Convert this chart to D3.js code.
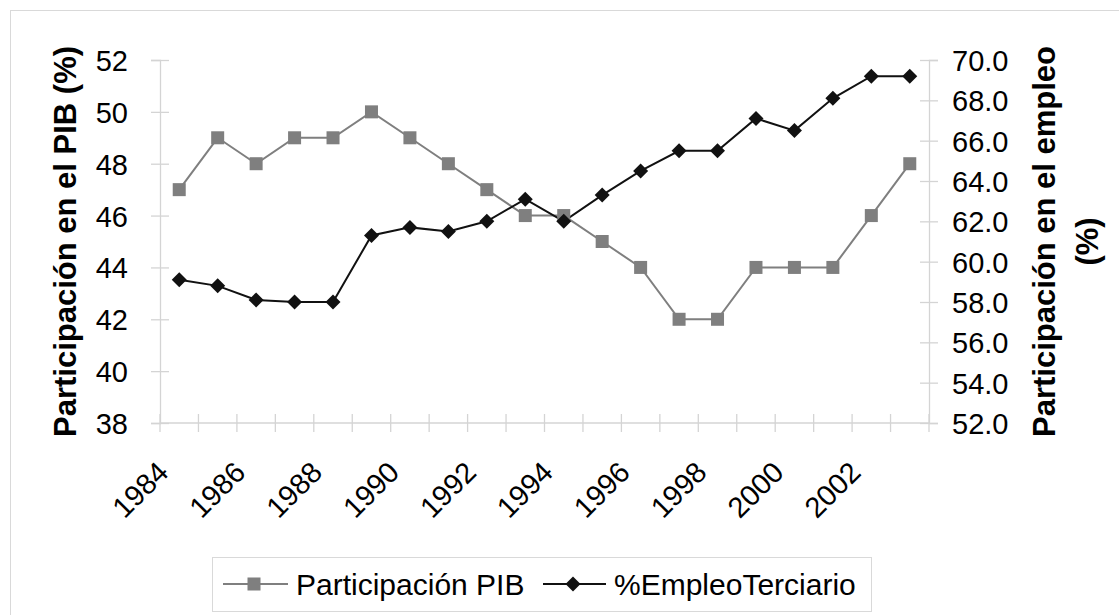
<!DOCTYPE html>
<html>
<head>
<meta charset="utf-8">
<script src="https://cdn.jsdelivr.net/npm/d3@7"></script>
<style>
  body { margin: 0; background: #fff; }
  svg text { font-family: "Liberation Sans", Arial, sans-serif; fill: #000; }
</style>
</head>
<body>
<div id="chart"></div>
<script>
"use strict";

// data
var years = [1984, 1985, 1986, 1987, 1988, 1989, 1990, 1991, 1992, 1993,
             1994, 1995, 1996, 1997, 1998, 1999, 2000, 2001, 2002, 2003];
var pib = [47, 49, 48, 49, 49, 50, 49, 48, 47, 46,
           46, 45, 44, 42, 42, 44, 44, 44, 46, 48];
var empleo = [59.1, 58.8, 58.1, 58.0, 58.0, 61.3, 61.7, 61.5, 62.0, 63.1,
              62.0, 63.3, 64.5, 65.5, 65.5, 67.1, 66.5, 68.1, 69.2, 69.2];
var leftTicks = [38, 40, 42, 44, 46, 48, 50, 52];
var rightTicks = [52, 54, 56, 58, 60, 62, 64, 66, 68, 70];
var xTickLabels = [1984, 1986, 1988, 1990, 1992, 1994, 1996, 1998, 2000, 2002];

var width = 1119, height = 615;
var margin = { top: 60, right: 190, bottom: 192, left: 160 };

var svg = d3.select("#chart").append("svg")
  .attr("width", width)
  .attr("height", height);

// outer chart border
svg.append("rect")
  .attr("x", 10.5).attr("y", 10.5)
  .attr("width", width).attr("height", height)
  .attr("fill", "none").attr("stroke", "#d9d9d9");

var x = d3.scaleBand()
  .domain(years)
  .range([margin.left, width - margin.right])
  .padding(0);

var yL = d3.scaleLinear().domain([38, 52]).range([height - margin.bottom, margin.top]);
var yR = d3.scaleLinear().domain([52, 70]).range([height - margin.bottom, margin.top]);

var axisColor = "#d4d4d4";
var tickFont = 29;

// left axis
var gL = svg.append("g")
  .attr("transform", "translate(" + margin.left + ",0)")
  .call(d3.axisLeft(yL).tickValues(leftTicks).tickSize(9).tickPadding(23).tickFormat(d3.format("d")));
gL.selectAll(".tick line").attr("x1", 9);

// right axis
var gR = svg.append("g")
  .attr("transform", "translate(" + (width - margin.right) + ",0)")
  .call(d3.axisRight(yR).tickValues(rightTicks).tickSize(9).tickPadding(14).tickFormat(d3.format(".1f")));
gR.selectAll(".tick line").attr("x1", -9);

[gL, gR].forEach(function (g) {
  g.select(".domain").attr("stroke", axisColor).attr("stroke-width", 1.3);
  g.selectAll(".tick line").attr("stroke", axisColor).attr("stroke-width", 1.3);
  g.selectAll(".tick text")
    .style("font-size", tickFont + "px")
    .attr("dy", "0.36em");
});

// x axis: line and tick marks at category boundaries
var y0 = height - margin.bottom;
var gX = svg.append("g");
gX.append("line")
  .attr("x1", x.range()[0]).attr("x2", x.range()[1])
  .attr("y1", y0).attr("y2", y0)
  .attr("stroke", axisColor).attr("stroke-width", 1.3);
gX.selectAll(".xtick")
  .data(years.concat(["end"]))
  .enter().append("line")
  .attr("class", "xtick")
  .attr("x1", function (d) { return d === "end" ? x.range()[1] : x(d); })
  .attr("x2", function (d) { return d === "end" ? x.range()[1] : x(d); })
  .attr("y1", y0 - 9).attr("y2", y0 + 9)
  .attr("stroke", axisColor).attr("stroke-width", 1.3);

gX.selectAll(".xlabel")
  .data(xTickLabels)
  .enter().append("text")
  .attr("class", "xlabel")
  .attr("text-anchor", "end")
  .attr("transform", function (d) {
    return "translate(" + (x(d) + x.bandwidth() / 2 - 9) + "," + (y0 + 51) + ") rotate(-45)";
  })
  .style("font-size", tickFont + "px")
  .text(function (d) { return d; });

// axis titles
svg.append("text")
  .attr("transform", "translate(65," + (margin.top + y0) / 2 + ") rotate(-90)")
  .attr("text-anchor", "middle")
  .attr("dy", "0.36em")
  .style("font-size", "31px")
  .style("font-weight", "bold")
  .text("Participación en el PIB (%)");

var rt = svg.append("g")
  .attr("transform", "translate(1065," + (margin.top + y0) / 2 + ") rotate(-90)");
rt.append("text")
  .attr("text-anchor", "middle").attr("y", -21).attr("dy", "0.36em")
  .style("font-size", "31px").style("font-weight", "bold")
  .text("Participación en el empleo");
rt.append("text")
  .attr("text-anchor", "middle").attr("y", 22).attr("dy", "0.36em")
  .style("font-size", "31px").style("font-weight", "bold")
  .text("(%)");

// series
var cx = function (d, i) { return x(years[i]) + x.bandwidth() / 2; };

var linePib = d3.line().x(cx).y(function (d) { return yL(d); });
var lineEmp = d3.line().x(cx).y(function (d) { return yR(d); });

var pibColor = "#7f7f7f", empColor = "#111111";

svg.append("path").datum(pib)
  .attr("d", linePib).attr("fill", "none")
  .attr("stroke", pibColor).attr("stroke-width", 2);
svg.append("path").datum(empleo)
  .attr("d", lineEmp).attr("fill", "none")
  .attr("stroke", empColor).attr("stroke-width", 2);

var sq = 13, dia = 7.5;
svg.selectAll(".sq")
  .data(pib).enter().append("rect")
  .attr("class", "sq")
  .attr("x", function (d, i) { return cx(d, i) - sq / 2; })
  .attr("y", function (d) { return yL(d) - sq / 2; })
  .attr("width", sq).attr("height", sq)
  .attr("fill", pibColor);

var diamond = function (px, py, r) {
  return "M" + px + "," + (py - r) + "L" + (px + r) + "," + py +
         "L" + px + "," + (py + r) + "L" + (px - r) + "," + py + "Z";
};
svg.selectAll(".dia")
  .data(empleo).enter().append("path")
  .attr("class", "dia")
  .attr("d", function (d, i) { return diamond(cx(d, i), yR(d), dia); })
  .attr("fill", empColor);

// legend
var leg = svg.append("g");
leg.append("rect")
  .attr("x", 212.5).attr("y", 557.5)
  .attr("width", 659).attr("height", 54)
  .attr("fill", "#fff").attr("stroke", "#d9d9d9");
var ly = 584;
leg.append("line").attr("x1", 223).attr("x2", 288).attr("y1", ly).attr("y2", ly)
  .attr("stroke", pibColor).attr("stroke-width", 2);
leg.append("rect").attr("x", 254 - sq / 2).attr("y", ly - sq / 2)
  .attr("width", sq).attr("height", sq).attr("fill", pibColor);
leg.append("text").attr("x", 296).attr("y", ly).attr("dy", "0.36em")
  .style("font-size", "30px").text("Participación PIB");

leg.append("line").attr("x1", 543).attr("x2", 606).attr("y1", ly).attr("y2", ly)
  .attr("stroke", empColor).attr("stroke-width", 2);
leg.append("path").attr("d", diamond(573, ly, dia)).attr("fill", empColor);
leg.append("text").attr("x", 614).attr("y", ly).attr("dy", "0.36em")
  .style("font-size", "30px").text("%EmpleoTerciario");
</script>
</body>
</html>
